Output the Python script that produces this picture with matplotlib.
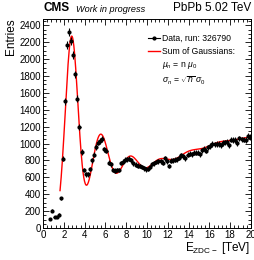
"""
ZDC minus energy spectrum with a sum-of-Gaussians fit.
"""

import numpy as np
import matplotlib
matplotlib.use('Agg')
import matplotlib.pyplot as plt
from matplotlib.lines import Line2D
from matplotlib.ticker import MultipleLocator

# Histogram: 0.2 TeV bins, first filled bin centred at 0.7 TeV
first_centre = 0.7
bin_width = 0.2
counts = [105, 205, 135, 128, 160, 350, 820, 1500, 2170, 2320, 2210,
          2050, 1820, 1530, 1200, 900, 690, 635, 635, 700, 800,
          870, 960, 1010, 1030, 1055, 930, 915, 775, 755, 690,
          680, 685, 690, 770, 785, 810, 815, 822, 800, 765,
          750, 740, 733, 720, 705, 694, 700, 725, 757, 764,
          780, 790, 792, 772, 824, 790, 733, 796, 804, 810,
          812, 830, 863, 851, 824, 870, 880, 874, 890, 890,
          890, 875, 920, 940, 914, 955, 970, 993, 990, 993,
          995, 981, 1008, 1015, 1020, 981, 1048, 1040, 1040, 1008,
          1060, 1050, 1048, 1040, 1087, 1080]

# Fit parameters
mu0 = 2.75
sigma0 = 0.62
amplitudes = [2265, 1080, 780, 679, 694, 723, 714, 690, 680]
fit_range = (1.63, 20.0)

x_ticks = [0, 2, 4, 6, 8, 10, 12, 14, 16, 18, 20]
y_ticks = [0, 200, 400, 600, 800, 1000, 1200, 1400, 1600, 1800, 2000, 2200, 2400]

plt.rcParams['font.family'] = ['Liberation Sans', 'DejaVu Sans']
plt.rcParams['mathtext.fontset'] = 'custom'
plt.rcParams['mathtext.rm'] = 'Liberation Sans'
plt.rcParams['mathtext.it'] = 'Liberation Sans:italic'

fig = plt.figure(figsize=(2.55, 2.6), dpi=100)
ax = fig.add_axes([0.169, 0.123, 0.815, 0.804])

counts = np.array(counts, dtype=float)
centres = first_centre + bin_width * np.arange(len(counts))
ax.errorbar(centres, counts, yerr=np.sqrt(counts), xerr=bin_width / 2,
            fmt='o', color='black', markersize=2.0, elinewidth=0.8,
            capsize=0, zorder=3)

x_fit = np.linspace(fit_range[0], fit_range[1], 500)
y_fit = np.zeros_like(x_fit)
for n, amp in enumerate(amplitudes, start=1):
    y_fit += amp * np.exp(-(x_fit - n * mu0) ** 2 / (2 * n * sigma0 ** 2))
ax.plot(x_fit, y_fit, color='red', lw=1.0, zorder=2)

ax.set_xlim(0, 20)
ax.set_ylim(0, 2475)
ax.set_xticks(x_ticks)
ax.set_yticks(y_ticks)
ax.xaxis.set_minor_locator(MultipleLocator(0.4))
ax.yaxis.set_minor_locator(MultipleLocator(50))
ax.tick_params(which='both', direction='in', top=True, right=True,
               labelsize=7, pad=1.5, width=0.6)
ax.tick_params(which='major', length=4)
ax.tick_params(which='minor', length=2)
for s in ax.spines.values():
    s.set_linewidth(0.7)

fig.text(0.02, 0.93, 'Entries', rotation=90, ha='left', va='top', fontsize=8.5)
fig.text(0.983, 0.015, r'E$_{\mathrm{ZDC-}}$ [TeV]', ha='right', va='bottom', fontsize=8.5)

fig.text(0.169, 0.945, 'CMS', weight='bold', fontsize=8.5, ha='left', va='bottom')
fig.text(0.298, 0.945, 'Work in progress', style='italic', fontsize=6.6, ha='left', va='bottom')
fig.text(0.985, 0.945, 'PbPb 5.02 TeV', fontsize=8.5, ha='right', va='bottom')

handles = [Line2D([], [], color='black', marker='o', markersize=2.0, lw=0.8),
           Line2D([], [], color='red', lw=1.0),
           Line2D([], [], color='none'),
           Line2D([], [], color='none')]
labels = ['Data, run: 326790', 'Sum of Gaussians:',
          r'$\mu_{n}$ = n $\mu_{0}$', r'$\sigma_{n}$ = $\sqrt{n}$ $\sigma_{0}$']
ax.legend(handles, labels, loc='upper left', bbox_to_anchor=(0.49, 0.945),
          frameon=False, fontsize=6.2, handlelength=1.4, handletextpad=0.2,
          labelspacing=0.45, borderaxespad=0)

fig.savefig('out.png', dpi=100)
